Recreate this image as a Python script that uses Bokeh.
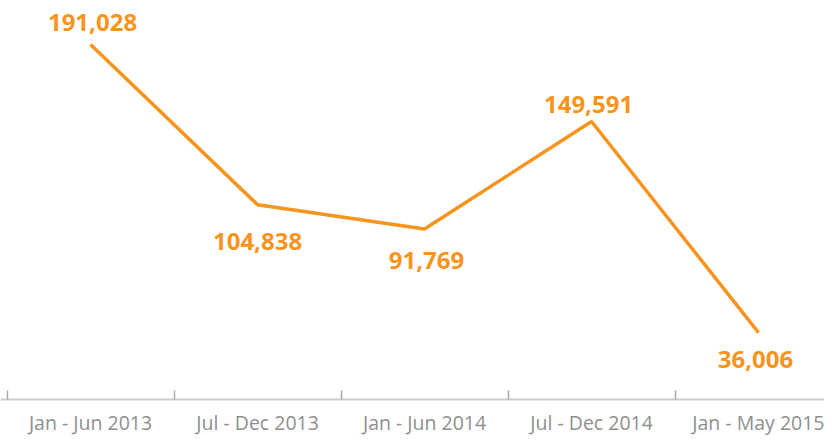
from bokeh.plotting import figure
from bokeh.models import Range1d, FixedTicker, ColumnDataSource
from bokeh.core.properties import value
from bokeh.embed import file_html
from bokeh.resources import INLINE

periods = ["Jan - Jun 2013", "Jul - Dec 2013", "Jan - Jun 2014", "Jul - Dec 2014", "Jan - May 2015"]
requests = [191028, 104838, 91769, 149591, 36006]
label_text = ["191,028", "104,838", "91,769", "149,591", "36,006"]

# styling: pixel offsets of value labels (above negative)
label_dy = [-22, 37, 32, -17, 27]
label_dx = [2, 0, 2, -3, -3]

ORANGE = "#F7941D"
xs = list(range(len(periods)))

p = figure(width=824, height=439, output_backend="svg", toolbar_location=None,
           x_range=Range1d(-0.539, 4.395), y_range=Range1d(-21524, 214702),
           min_border_left=0, min_border_right=0, min_border_top=0, min_border_bottom=0)
p.outline_line_color = None
p.grid.grid_line_color = None
p.yaxis.visible = False
p.background_fill_color = "white"
p.border_fill_color = "white"

p.line(xs, requests, line_color=ORANGE, line_width=3.5)

src = ColumnDataSource(dict(x=xs, y=requests, t=label_text, dy=label_dy, dx=label_dx))
p.text(x="x", y="y", text="t", source=src, x_offset="dx", y_offset="dy",
       text_font=value("Open Sans"), text_font_style="bold", text_font_size="24px",
       text_color=ORANGE, text_align="center", text_baseline="middle")

ax = p.xaxis[0]
ax.fixed_location = 0
ax.ticker = FixedTicker(ticks=xs, minor_ticks=[x - 0.5 for x in xs] + [len(xs) - 0.5])
ax.major_label_overrides = {i: lab for i, lab in enumerate(periods)}
ax.major_tick_line_color = None
ax.minor_tick_in = 9
ax.minor_tick_out = 0
ax.minor_tick_line_color = "#aaaaaa"
ax.minor_tick_line_width = 1.5
ax.axis_line_color = "#cccccc"
ax.axis_line_width = 2
ax.major_label_text_font = "Open Sans"
ax.major_label_text_font_size = "19.5px"
ax.major_label_text_color = "#8f8f8f"
ax.major_label_standoff = 3

open("out.html", "w").write(file_html(p, INLINE))
